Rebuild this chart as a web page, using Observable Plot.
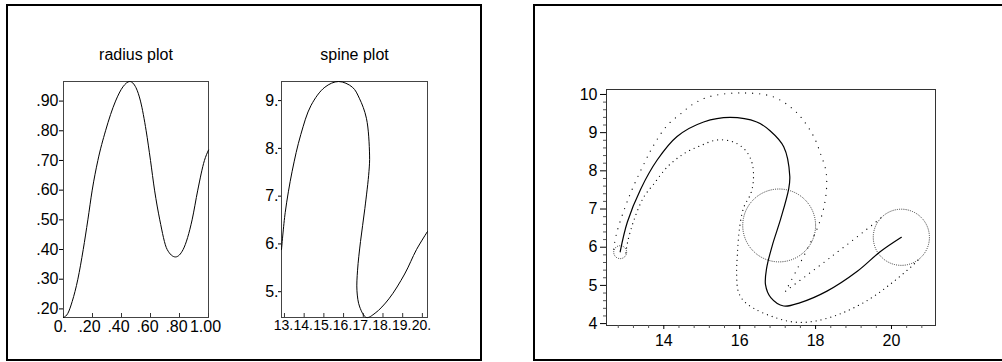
<!DOCTYPE html>
<html><head><meta charset="utf-8">
<script src="https://cdn.jsdelivr.net/npm/d3@7"></script>
<script src="https://cdn.jsdelivr.net/npm/@observablehq/plot@0.6"></script>
<style>
html,body{margin:0;padding:0;background:#fff;overflow:hidden;width:1002px;height:362px;}
.panel{position:absolute;box-sizing:border-box;border:2px solid #000;}
.chart{position:absolute;}
</style></head><body>
<div class="panel" style="left:6px;top:4px;width:476px;height:357px"></div>
<div class="panel" style="left:533px;top:4px;width:476px;height:357px"></div>
<div id="radius" class="chart" style="left:13px;top:30px"></div>
<div id="spine" class="chart" style="left:231px;top:30px"></div>
<div id="tube" class="chart" style="left:540px;top:60px"></div>
<script>
// ---------- data ----------
const radiusTitle = ["radius plot"];
const spineTitle = ["spine plot"];

// radius r(t)
const radiusT = [0, 0.03, 0.06, 0.099, 0.136, 0.168, 0.198, 0.237, 0.29, 0.359, 0.41, 0.457, 0.50, 0.531, 0.57, 0.60, 0.628, 0.664, 0.715, 0.772, 0.825, 0.887, 0.926, 0.972, 1.0];
const radiusR = [0.171, 0.185, 0.225, 0.30, 0.40, 0.50, 0.60, 0.70, 0.80, 0.90, 0.948, 0.966, 0.945, 0.90, 0.80, 0.70, 0.60, 0.50, 0.40, 0.375, 0.40, 0.50, 0.60, 0.70, 0.735];

// spine curve (x(t), y(t))
const spineX = [12.85, 13.04, 13.39, 13.83, 14.35, 15.05, 15.75, 16.45, 16.8, 17.16, 17.32, 17.29, 17.08, 16.86, 16.71, 16.68, 16.82, 17.16, 17.6, 18.3, 19.1, 19.7, 20.26];
const spineY = [5.88, 6.66, 7.52, 8.29, 8.9, 9.28, 9.40, 9.28, 9.05, 8.63, 7.86, 7.52, 6.74, 6.05, 5.45, 5.02, 4.68, 4.46, 4.55, 4.85, 5.37, 5.88, 6.26];

// tube outline, left side of travel (up to cusp) and its tail after the cusp
const leftX = [12.68, 12.75, 13.08, 13.52, 13.78, 14.09, 14.44, 14.79, 15.23, 16.02, 16.85, 17.34, 17.65, 17.96, 18.13, 18.27, 18.29, 18.22, 18.06, 17.83, 17.52, 17.21];
const leftY = [5.95, 6.34, 7.31, 8.27, 8.75, 9.19, 9.49, 9.76, 9.95, 10.04, 9.95, 9.67, 9.36, 8.88, 8.45, 8.01, 7.57, 7.05, 6.53, 6.05, 5.44, 4.85];
const leftTailX = [17.21, 18.4, 19.54, 19.78];
const leftTailY = [4.85, 5.74, 6.62, 6.82];
// tube outline, right side of travel
const rightX = [13.0, 13.05, 13.21, 13.47, 13.74, 14.09, 14.53, 14.97, 15.41, 15.85, 16.16, 16.33, 16.36, 16.29, 16.11, 16.0, 15.94, 15.92, 15.96, 16.1, 16.37, 16.9, 17.43, 17.96, 18.66, 19.37, 19.98, 20.51, 20.72];
const rightY = [5.85, 6.15, 6.70, 7.31, 7.66, 8.10, 8.45, 8.66, 8.81, 8.75, 8.53, 8.19, 7.75, 7.40, 7.05, 6.53, 5.83, 5.3, 4.85, 4.6, 4.40, 4.17, 4.04, 4.06, 4.26, 4.61, 5.04, 5.48, 5.68];

// cross-section circles
const sectionX = [12.85, 17.04, 20.26];
const sectionY = [5.87, 6.57, 6.26];
const sectionR = [0.17, 0.96, 0.74];

// ticks
const radiusXTicks = [0, 0.2, 0.4, 0.6, 0.8, 1.0];
const radiusXLabels = ["0.", ".20", ".40", ".60", ".80", "1.00"];
const radiusYTicks = [0.2, 0.3, 0.4, 0.5, 0.6, 0.7, 0.8, 0.9];
const radiusYLabels = [".20", ".30", ".40", ".50", ".60", ".70", ".80", ".90"];
const spineXTicks = [13, 14, 15, 16, 17, 18, 19, 20];
const spineXLabels = ["13.", "14.", "15.", "16.", "17.", "18.", "19.", "20."];
const spineYTicks = [5, 6, 7, 8, 9];
const spineYLabels = ["5.", "6.", "7.", "8.", "9."];
const tubeXTicks = [14, 16, 18, 20];
const tubeXLabels = ["14", "16", "18", "20"];
const tubeXMinor = [12.8, 13.2, 13.6, 14.4, 14.8, 15.2, 15.6, 16.4, 16.8, 17.2, 17.6, 18.4, 18.8, 19.2, 19.6, 20.4, 20.8];
const tubeYTicks = [4, 5, 6, 7, 8, 9, 10];
const tubeYLabels = ["4", "5", "6", "7", "8", "9", "10"];
const tubeYMinor = [4.2, 4.4, 4.6, 4.8, 5.2, 5.4, 5.6, 5.8, 6.2, 6.4, 6.6, 6.8, 7.2, 7.4, 7.6, 7.8, 8.2, 8.4, 8.6, 8.8, 9.2, 9.4, 9.6, 9.8];

// ---------- build ----------
const FONT = "'Liberation Sans', Arial, Helvetica, sans-serif";
const fmt = (ticks, labels) => d => labels[ticks.indexOf(d)];
const pts = (xs, ys) => xs.map((x, i) => ({x, y: ys[i]}));

const radiusData = radiusT.map((t, i) => ({t, r: radiusR[i]}));
const spineData = pts(spineX, spineY);

// radius plot
{
  const W = 210, H = 320, ML = 50, MR = 15, MT = 51, MB = 33;
  const chart = Plot.plot({
    width: W, height: H, marginLeft: ML, marginRight: MR, marginTop: MT, marginBottom: MB,
    x: {domain: [0, 1]},
    y: {domain: d3.extent(radiusR)},
    style: {fontFamily: FONT, fontSize: "16px", background: "transparent", overflow: "visible", color: "#000"},
    marks: [
      Plot.frame({stroke: "#444"}),
      Plot.tickX(radiusXTicks, {x: d => d, insetTop: H - MT - MB - 4, stroke: "#333"}),
      Plot.axisX(radiusXTicks, {anchor: "bottom", tickSize: 0, tickPadding: 3, dx: -3, tickFormat: fmt(radiusXTicks, radiusXLabels), label: null, fontSize: 16}),
      Plot.axisY(radiusYTicks, {anchor: "left", tickSize: 4, tickPadding: 1, tickFormat: fmt(radiusYTicks, radiusYLabels), label: null, fontSize: 16}),
      Plot.line(radiusData, {x: "t", y: "r", curve: "monotone-x", stroke: "#000", strokeWidth: 1}),
      Plot.text(radiusTitle, {text: d => d, frameAnchor: "top", dy: -33, fontSize: 16})
    ]
  });
  document.getElementById("radius").appendChild(chart);
}

// spine plot
{
  const W = 210, H = 320, ML = 50, MR = 14, MT = 51, MB = 33;
  const chart = Plot.plot({
    width: W, height: H, marginLeft: ML, marginRight: MR, marginTop: MT, marginBottom: MB,
    x: {domain: d3.extent(spineX)},
    y: {domain: d3.extent(spineY)},
    style: {fontFamily: FONT, fontSize: "16px", background: "transparent", overflow: "visible", color: "#000"},
    marks: [
      Plot.frame({stroke: "#444"}),
      Plot.tickX(spineXTicks, {x: d => d, insetTop: H - MT - MB - 4, stroke: "#333"}),
      Plot.axisX(spineXTicks, {anchor: "bottom", tickSize: 0, tickPadding: 3, dx: -1, tickFormat: fmt(spineXTicks, spineXLabels), label: null, fontSize: 14}),
      Plot.axisY(spineYTicks, {anchor: "left", tickSize: 3, tickPadding: 0, tickFormat: fmt(spineYTicks, spineYLabels), label: null, fontSize: 16}),
      Plot.line(spineData, {x: "x", y: "y", curve: "catmull-rom", stroke: "#000", strokeWidth: 1}),
      Plot.text(spineTitle, {text: d => d, frameAnchor: "top", dy: -33, fontSize: 16})
    ]
  });
  document.getElementById("spine").appendChild(chart);
}

// tube plot
{
  const W = 420, H = 290, ML = 66, MR = 25, MT = 29, MB = 25;
  const xDom = [12.49, 21.16], yDom = [3.95, 10.13];
  const k = (W - ML - MR) / (xDom[1] - xDom[0]);
  const sections = sectionX.map((x, i) => ({x, y: sectionY[i], r: sectionR[i]}));
  const dotted = {x: "x", y: "y", curve: "catmull-rom", stroke: "#111", strokeWidth: 1.3, strokeLinecap: "round"};
  const chart = Plot.plot({
    width: W, height: H, marginLeft: ML, marginRight: MR, marginTop: MT, marginBottom: MB,
    x: {domain: xDom},
    y: {domain: yDom},
    r: {type: "linear", domain: [0, 1], range: [0, k]},
    style: {fontFamily: FONT, fontSize: "16px", background: "transparent", overflow: "visible", color: "#000"},
    marks: [
      Plot.frame({stroke: "#333"}),
      Plot.axisX(tubeXMinor, {anchor: "bottom", tickSize: 3, tickFormat: () => "", label: null, stroke: "#555"}),
      Plot.axisX(tubeXTicks, {anchor: "bottom", tickSize: 4, tickPadding: 5, tickFormat: fmt(tubeXTicks, tubeXLabels), label: null, fontSize: 16}),
      Plot.axisY(tubeYMinor, {anchor: "left", tickSize: 3, tickFormat: () => "", label: null, stroke: "#555"}),
      Plot.axisY(tubeYTicks, {anchor: "left", tickSize: 6, tickPadding: 3, tickFormat: fmt(tubeYTicks, tubeYLabels), label: null, fontSize: 16}),
      Plot.line(pts(leftX, leftY), {...dotted, strokeDasharray: "0,7"}),
      Plot.line(pts(leftTailX, leftTailY), {...dotted, strokeDasharray: "0,6"}),
      Plot.line(pts(rightX, rightY), {...dotted, strokeDasharray: "0,5"}),
      Plot.dot(sections, {x: "x", y: "y", r: "r", fill: "none", stroke: "#333", strokeWidth: 1, strokeDasharray: "1,1.2"}),
      Plot.line(spineData, {x: "x", y: "y", curve: "catmull-rom", stroke: "#000", strokeWidth: 1.2})
    ]
  });
  document.getElementById("tube").appendChild(chart);
}
</script>
</body></html>
